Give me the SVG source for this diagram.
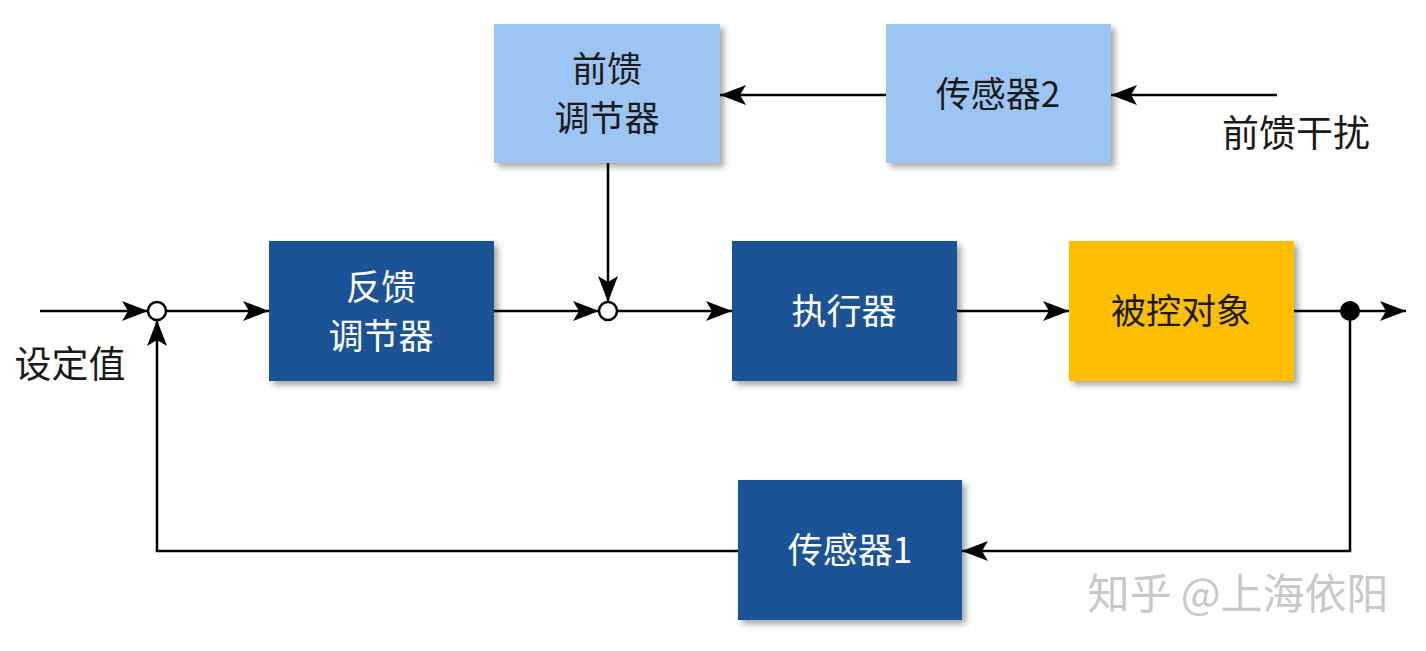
<svg xmlns="http://www.w3.org/2000/svg" width="1426" height="651" viewBox="0 0 1426 651">
<defs>
<marker id="ar" viewBox="0 0 26 20" refX="26" refY="10" markerWidth="26" markerHeight="20" markerUnits="userSpaceOnUse" orient="auto"><path d="M0,0 L26,10 L0,20 L6,10 Z" fill="#000"/></marker>
<filter id="sh" x="-10%" y="-10%" width="130%" height="130%"><feDropShadow dx="4" dy="4" stdDeviation="3" flood-color="#000" flood-opacity="0.35"/></filter>
</defs>
<style>
text{font-family:"Noto Sans CJK SC","Liberation Sans",sans-serif;font-size:35px;text-anchor:middle}
.dk rect{fill:#1F5397;filter:url(#sh)}
.dk text{fill:#fff}
.lt rect{fill:#9DC5F3;filter:url(#sh)}
.lt text{fill:#1a1a1a}
.yl rect{fill:#FDBF00;filter:url(#sh)}
.yl text{fill:#1a1a1a}
.ln{stroke:#000;stroke-width:2.5;fill:none}
.lbl{fill:#1a1a1a}
</style>
<rect width="1426" height="651" fill="#fff"/>
<g id="ff" class="lt"><rect x="494" y="24" width="226" height="139"/><text x="607" y="82">前馈</text><text x="607" y="131">调节器</text></g>
<g id="s2" class="lt"><rect x="886" y="24" width="225" height="139"/><text x="998" y="107">传感器2</text></g>
<g id="fb" class="dk"><rect x="269" y="241" width="225" height="140"/><text x="381" y="300">反馈</text><text x="381" y="349">调节器</text></g>
<g id="act" class="dk"><rect x="732" y="241" width="225" height="140"/><text x="844" y="324">执行器</text></g>
<g id="plant" class="yl"><rect x="1069" y="241" width="225" height="140"/><text x="1181" y="324">被控对象</text></g>
<g id="s1" class="dk"><rect x="738" y="480" width="224" height="140"/><text x="850" y="563">传感器1</text></g>
<g id="connectors">
<path class="ln" d="M40,311 H148" marker-end="url(#ar)"/>
<path class="ln" d="M166,311 H269" marker-end="url(#ar)"/>
<path class="ln" d="M494,311 H599" marker-end="url(#ar)"/>
<path class="ln" d="M617,311 H732" marker-end="url(#ar)"/>
<path class="ln" d="M957,311 H1069" marker-end="url(#ar)"/>
<path class="ln" d="M1294,311 H1406" marker-end="url(#ar)"/>
<path class="ln" d="M1350,311 V551 H962" marker-end="url(#ar)"/>
<path class="ln" d="M738,551 H157 V320" marker-end="url(#ar)"/>
<path class="ln" d="M1277,95 H1111" marker-end="url(#ar)"/>
<path class="ln" d="M886,95 H720" marker-end="url(#ar)"/>
<path class="ln" d="M608,163 V302" marker-end="url(#ar)"/>
<circle cx="157" cy="311" r="9" fill="#fff" stroke="#000" stroke-width="2.5"/>
<circle cx="608" cy="311" r="9" fill="#fff" stroke="#000" stroke-width="2.5"/>
<circle cx="1350" cy="311" r="10" fill="#000"/>
</g>
<text class="lbl" x="70" y="378" style="font-size:37px">设定值</text>
<text class="lbl" x="1296" y="147" style="font-size:37px">前馈干扰</text>
<text x="1238" y="609" style="fill:#c8c8c8;font-size:42px">知乎 @上海依阳</text>
</svg>
